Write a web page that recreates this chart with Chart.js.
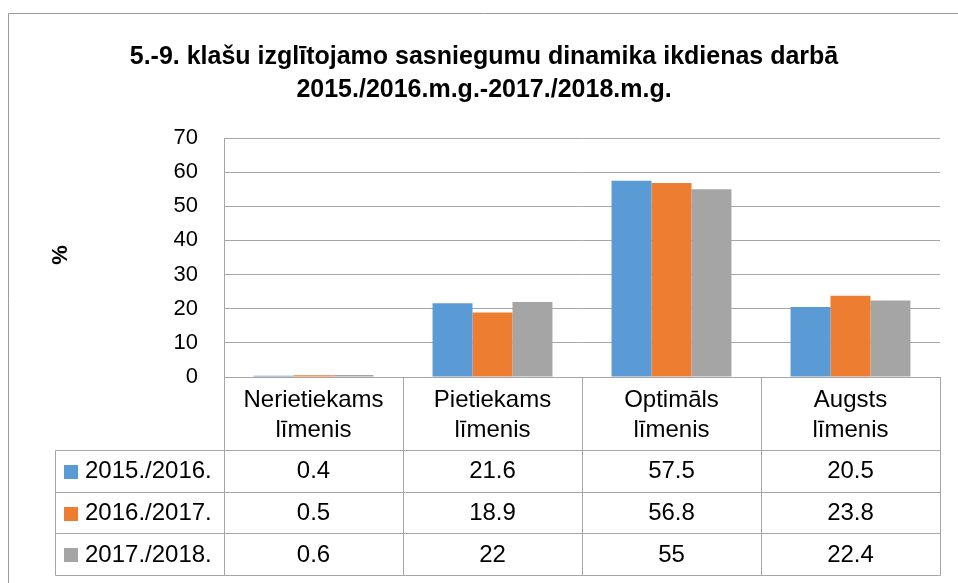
<!DOCTYPE html>
<html>
<head>
<meta charset="utf-8">
<script src="https://cdn.jsdelivr.net/npm/chart.js@4/dist/chart.umd.min.js"></script>
<style>
  html, body { margin: 0; padding: 0; background: #fff; }
  #wrap { width: 958px; height: 583px; position: relative; }
</style>
</head>
<body>
<div id="wrap"><canvas id="c" width="958" height="583"></canvas></div>
<script>
const titleLines = ["5.-9. klašu izglītojamo sasniegumu dinamika ikdienas darbā", "2015./2016.m.g.-2017./2018.m.g."];
const yAxisTitle = "%";
const categories = [["Nerietiekams", "līmenis"], ["Pietiekams", "līmenis"], ["Optimāls", "līmenis"], ["Augsts", "līmenis"]];
const seriesNames = ["2015./2016.", "2016./2017.", "2017./2018."];
const s2015 = [0.4, 21.6, 57.5, 20.5];
const s2016 = [0.5, 18.9, 56.8, 23.8];
const s2017 = [0.6, 22, 55, 22.4];
const colors = ["#5b9bd5", "#ed7d31", "#a5a5a5"];
const yTicks = [0, 10, 20, 30, 40, 50, 60, 70];

const seriesValues = [s2015, s2016, s2017];
const FONT = "'Liberation Sans', Arial, sans-serif";
const LINE = "#a6a6a6";

const tablePlugin = {
  id: 'tablePlugin',
  afterDraw(chart) {
    const ctx = chart.ctx;
    const xs = chart.scales.x;
    const area = chart.chartArea;
    ctx.save();
    // outer frame
    ctx.strokeStyle = "#9a9a9a";
    ctx.lineWidth = 1;
    ctx.beginPath();
    ctx.moveTo(8.5, 583); ctx.lineTo(8.5, 13.5); ctx.lineTo(958, 13.5);
    ctx.stroke();

    // title
    ctx.fillStyle = "#000";
    ctx.font = "bold 25px " + FONT;
    ctx.textAlign = "center";
    ctx.textBaseline = "alphabetic";
    ctx.fillText(titleLines[0], 484, 64);
    ctx.fillText(titleLines[1], 484, 97);

    // y axis title
    ctx.save();
    ctx.translate(61, 255);
    ctx.rotate(-Math.PI / 2);
    ctx.font = "bold 22px " + FONT;
    ctx.textBaseline = "middle";
    ctx.fillText(yAxisTitle, 0, 0);
    ctx.restore();

    // table geometry
    const n = categories.length;
    const catW = (area.right - area.left) / n;
    const top = area.bottom;
    const headerBottom = top + 73;
    const rowH = 41.7;
    const rowTops = [headerBottom, headerBottom + rowH, headerBottom + 2 * rowH];
    const tableBottom = headerBottom + 3 * rowH;
    const legendLeft = 55;
    const px = v => Math.round(v) + 0.5;

    ctx.strokeStyle = LINE;
    ctx.lineWidth = 1;
    ctx.beginPath();
    for (let i = 0; i <= n; i++) {
      const x = px(area.left + i * catW);
      ctx.moveTo(x, top); ctx.lineTo(x, px(tableBottom));
    }
    ctx.moveTo(px(legendLeft), px(headerBottom)); ctx.lineTo(px(legendLeft), px(tableBottom));
    [headerBottom, headerBottom + rowH, headerBottom + 2 * rowH, tableBottom].forEach(y => {
      ctx.moveTo(px(legendLeft), px(y)); ctx.lineTo(px(area.right), px(y));
    });
    ctx.stroke();

    // category labels
    ctx.fillStyle = "#000";
    ctx.font = "24px " + FONT;
    ctx.textAlign = "center";
    ctx.textBaseline = "alphabetic";
    categories.forEach((lab, i) => {
      const cx = xs.getPixelForValue(i);
      ctx.fillText(lab[0], cx, top + 30);
      ctx.fillText(lab[1], cx, top + 60);
    });

    // data rows
    seriesNames.forEach((name, r) => {
      const cy = rowTops[r] + rowH / 2 + 1;
      ctx.fillStyle = colors[r];
      ctx.fillRect(64, Math.round(cy - 7), 14, 14);
      ctx.fillStyle = "#000";
      ctx.textAlign = "left";
      ctx.textBaseline = "middle";
      ctx.fillText(name, 85, cy);
      ctx.textAlign = "center";
      seriesValues[r].forEach((v, i) => {
        ctx.fillText(String(v), xs.getPixelForValue(i), cy);
      });
    });
    ctx.restore();
  }
};

new Chart(document.getElementById('c'), {
  type: 'bar',
  data: {
    labels: categories.map(c => c.join(' ')),
    datasets: seriesNames.map((name, i) => ({
      label: name,
      data: seriesValues[i],
      backgroundColor: colors[i],
      borderWidth: 0,
      categoryPercentage: 0.67,
      barPercentage: 1.0
    }))
  },
  options: {
    responsive: false,
    animation: false,
    devicePixelRatio: 1,
    layout: { padding: { top: 138, bottom: 206, right: 18, left: 0 } },
    plugins: {
      legend: { display: false },
      title: { display: false },
      tooltip: { enabled: false }
    },
    scales: {
      x: { display: false },
      y: {
        min: 0, max: 70,
        afterBuildTicks: s => { s.ticks = yTicks.map(v => ({ value: v })); },
        afterFit: s => { s.width = 224; },
        ticks: { font: { family: FONT, size: 22 }, color: "#000", padding: 26 },
        grid: { color: LINE, drawTicks: false, lineWidth: 1 },
        border: { display: true, color: LINE }
      }
    }
  },
  plugins: [tablePlugin]
});
</script>
</body>
</html>
